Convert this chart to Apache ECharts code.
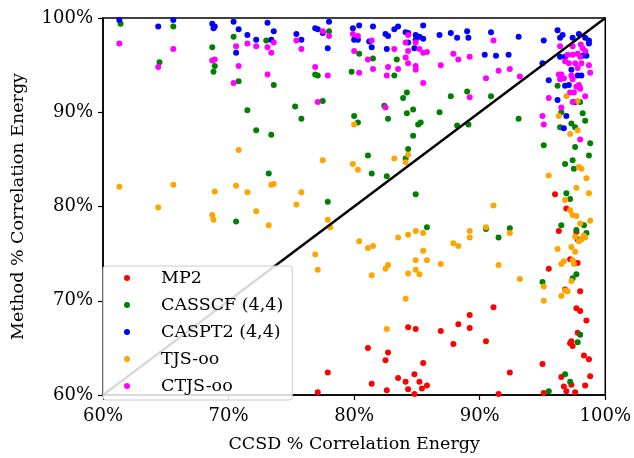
<!DOCTYPE html>
<html><head><meta charset="utf-8">
<script src="https://cdn.jsdelivr.net/npm/echarts@6/dist/echarts.min.js"></script>
<style>html,body{margin:0;padding:0;background:#fff}#c{width:634px;height:458px}</style>
</head><body><div id="c"></div>
<script>
const seriesNames = ["MP2", "CASSCF (4,4)", "CASPT2 (4,4)", "TJS-oo", "CTJS-oo"];
const xTicks = [60, 70, 80, 90, 100];
const yTicks = [60, 70, 80, 90, 100];

const mp2 = [[96.0,81.3],[96.9,79.8],[96.3,77.4],[97.7,77.3],[97.8,76.5],[97.2,74.4],[97.8,74.0],[95.5,73.4],[98.0,71.0],[96.8,71.2],[97.7,69.2],[98.0,68.9],[98.5,67.9],[97.8,66.6],[97.3,65.7],[97.4,65.2],[97.2,65.5],[98.3,64.2],[98.7,63.8],[95.0,63.3],[96.5,61.9],[98.8,62.0],[96.7,60.9],[97.3,61.1],[98.4,61.0],[96.9,60.4],[97.6,60.3],[95.1,60.2],[91.5,60.1],[92.4,62.4],[91.1,69.3],[90.5,65.7],[89.2,68.5],[89.2,67.1],[88.3,67.5],[87.9,65.4],[86.9,66.8],[84.9,67.0],[84.3,67.2],[85.5,63.4],[84.8,62.2],[85.2,61.4],[85.8,61.0],[85.4,60.7],[84.1,61.4],[84.3,60.6],[84.8,60.1],[83.5,61.8],[82.5,63.7],[82.7,64.5],[82.6,60.5],[81.1,65.0],[81.4,61.2],[77.9,62.4],[77.1,60.3]];

const casscf = [[61.4,99.4],[65.6,99.1],[70.4,98.0],[73.0,97.6],[64.5,95.3],[68.7,96.9],[68.9,94.9],[68.8,94.3],[70.8,93.3],[71.5,90.2],[72.2,88.1],[73.4,87.6],[73.2,83.5],[73.6,92.9],[70.6,78.4],[75.3,90.6],[75.8,89.3],[76.9,94.0],[77.1,93.9],[77.5,91.2],[78.0,98.6],[77.9,80.5],[79.8,94.3],[80.0,89.6],[80.3,88.9],[80.4,96.2],[81.5,95.7],[81.1,85.4],[81.4,83.5],[82.4,90.7],[82.7,89.3],[82.6,83.2],[83.4,95.6],[83.2,93.9],[84.2,92.1],[83.9,91.5],[84.2,89.9],[84.7,90.3],[84.7,87.5],[84.3,86.1],[84.1,85.1],[84.9,81.3],[85.1,88.7],[85.3,88.9],[85.8,77.8],[86.8,90.0],[87.7,91.7],[88.2,88.6],[89.0,92.2],[89.1,88.7],[90.9,91.7],[90.5,77.6],[91.5,76.7],[92.4,77.7],[93.1,89.3],[95.1,86.5],[95.0,72.0],[95.5,60.4],[96.2,92.8],[96.5,90.0],[96.4,88.4],[96.8,84.5],[96.9,81.4],[97.2,80.8],[97.4,84.9],[97.5,84.0],[96.5,78.0],[97.3,88.8],[97.6,88.4],[98.0,91.1],[98.2,89.9],[98.4,89.1],[98.8,86.7],[98.7,85.4],[97.6,86.3],[97.7,77.5],[98.3,78.0],[98.5,77.2],[98.0,76.5],[97.7,72.8],[97.4,72.4],[98.0,66.4],[97.8,65.6],[96.8,62.2],[97.2,61.4]];

const caspt2 = [[61.3,99.8],[64.4,99.1],[65.6,99.8],[68.7,99.4],[68.9,99.1],[68.8,98.9],[70.4,99.6],[70.8,98.8],[70.6,96.3],[71.5,98.2],[72.2,97.7],[73.1,99.5],[73.4,97.7],[73.6,98.6],[75.4,98.3],[75.8,97.7],[76.9,98.9],[77.1,98.8],[77.5,98.4],[78.0,99.6],[77.9,96.8],[79.9,98.9],[80.4,99.2],[80.0,97.7],[80.3,97.7],[81.5,99.1],[81.4,96.9],[81.2,97.5],[82.5,98.3],[82.7,98.1],[82.6,96.7],[83.2,98.8],[83.5,99.1],[84.1,98.5],[84.3,98.4],[84.3,97.4],[84.9,98.2],[84.9,97.7],[85.2,98.0],[85.5,97.8],[85.5,99.2],[84.8,96.8],[86.8,98.2],[87.7,98.4],[88.2,97.9],[89.0,98.6],[89.1,97.9],[90.9,98.5],[90.4,96.1],[91.3,96.0],[92.3,96.1],[93.1,98.0],[95.1,97.6],[95.0,95.2],[95.5,93.4],[96.2,98.7],[96.6,98.2],[96.4,97.9],[97.4,97.9],[97.9,98.3],[98.4,97.9],[98.7,97.6],[98.7,97.3],[96.4,95.9],[96.8,95.9],[98.5,96.0],[98.2,96.0],[97.3,94.5],[96.8,92.8],[97.1,92.9],[97.8,93.9],[98.1,93.9],[96.2,91.3],[97.6,91.1],[96.9,89.6],[96.7,88.3]];

const tjs = [[61.3,82.1],[64.4,79.9],[65.6,82.3],[68.7,79.1],[68.8,78.6],[68.9,81.6],[70.6,82.2],[70.8,86.0],[71.5,81.5],[72.2,79.5],[73.2,78.0],[73.4,82.3],[73.6,82.4],[75.4,80.2],[75.8,81.5],[76.9,74.9],[77.1,73.3],[77.5,84.9],[77.9,78.6],[78.1,77.8],[79.9,84.5],[80.0,88.7],[80.3,83.9],[80.4,76.3],[81.1,75.6],[81.5,75.8],[81.4,72.7],[82.5,73.4],[82.7,73.8],[82.6,67.0],[83.2,85.1],[83.5,76.7],[84.1,84.7],[84.3,85.5],[84.1,70.2],[84.3,77.0],[84.3,72.9],[84.9,77.4],[84.9,74.3],[84.9,73.3],[85.2,72.8],[85.5,75.3],[85.5,77.2],[85.8,74.3],[86.9,73.9],[87.9,76.1],[88.3,75.8],[89.2,77.4],[89.2,76.7],[90.5,77.8],[91.1,80.1],[91.5,73.8],[92.4,77.2],[93.2,72.3],[95.1,71.5],[95.1,70.0],[95.5,83.3],[96.3,89.6],[96.2,75.5],[96.5,73.9],[96.7,74.2],[96.5,70.5],[96.8,71.1],[97.0,71.0],[96.8,80.7],[97.2,87.7],[97.2,79.6],[97.4,79.1],[97.7,79.0],[97.3,75.7],[97.6,75.2],[97.4,74.3],[97.5,73.9],[97.3,72.1],[97.7,82.0],[98.0,78.2],[97.8,88.1],[97.9,84.2],[98.1,84.0],[97.6,76.8],[98.3,76.9],[97.9,76.3],[98.1,76.5],[98.4,76.7],[98.5,83.0],[98.7,81.4],[98.8,78.5],[96.9,91.7],[97.8,91.2],[98.0,92.7]];

const ctjs = [[61.3,97.3],[64.4,94.8],[65.6,96.7],[68.7,95.5],[68.9,95.6],[70.4,93.1],[70.6,97.0],[70.8,94.9],[71.5,97.3],[72.2,97.0],[73.1,96.9],[73.4,96.3],[73.1,94.0],[73.6,97.4],[75.4,97.6],[75.8,96.7],[76.9,94.8],[77.1,91.1],[77.5,98.6],[78.0,98.1],[77.9,93.9],[79.9,98.3],[80.3,98.1],[80.0,96.5],[80.4,94.2],[81.1,95.6],[81.4,97.6],[81.5,94.6],[82.5,90.5],[82.6,93.9],[82.7,94.8],[83.2,96.7],[83.5,94.6],[84.1,97.4],[84.1,95.8],[84.3,95.2],[84.3,96.5],[84.3,98.2],[84.9,97.4],[84.9,94.9],[84.9,94.5],[85.2,96.7],[85.5,93.1],[85.5,96.3],[85.8,96.4],[86.9,95.0],[87.9,96.2],[88.3,95.6],[89.2,95.9],[89.2,91.6],[90.5,93.6],[91.1,97.6],[91.5,94.4],[92.4,94.6],[93.2,93.8],[95.0,89.6],[95.1,88.7],[95.5,91.5],[96.5,90.5],[97.4,91.1],[98.0,87.1],[98.4,91.7],[98.7,95.0],[98.8,94.2],[96.4,97.0],[97.4,97.0],[98.05,97.2],[98.2,96.8],[98.4,96.5],[97.8,96.2],[98.0,95.9],[97.4,96.1],[97.0,96.1],[96.8,95.4],[97.1,95.2],[97.6,95.2],[98.1,95.2],[97.8,94.7],[96.3,94.0],[96.5,94.0],[96.7,93.6],[96.4,93.5],[97.3,93.9],[97.4,93.5],[97.9,92.9],[97.7,92.7],[98.0,92.5],[97.2,92.1],[97.5,92.1]];

const diagonal = [[60, 60], [100, 100]];
const colors = ["#ff0000", "#008000", "#0000ff", "#ffa500", "#ff00ff"];
const allData = [mp2, casscf, caspt2, tjs, ctjs];

const FONT = "DejaVu Serif";
const chart = echarts.init(document.getElementById('c'), null, {renderer: 'canvas'});
const scatterSeries = allData.map((d, i) => ({
  name: seriesNames[i], type: 'scatter', data: d, symbolSize: 6,
  itemStyle: {color: colors[i], opacity: 1}, clip: true, silent: true
}));
chart.setOption({
  animation: false,
  backgroundColor: '#fff',
  grid: {left: 103, right: 25, top: 18, bottom: 57, show: true, borderColor: '#000', borderWidth: 1.5, backgroundColor: 'transparent'},
  xAxis: {
    type: 'value', min: xTicks[0], max: xTicks[xTicks.length - 1], interval: 10,
    name: 'CCSD % Correlation Energy', nameLocation: 'middle', nameGap: 40,
    nameTextStyle: {fontFamily: FONT, fontSize: 17.5, color: '#000'},
    axisLine: {show: true, lineStyle: {color: '#000', width: 1.5}},
    axisTick: {show: true, length: 5, lineStyle: {color: '#000', width: 1.2}},
    axisLabel: {formatter: '{value}%', fontFamily: FONT, fontSize: 18, color: '#000', margin: 12},
    splitLine: {show: false}
  },
  yAxis: {
    type: 'value', min: yTicks[0], max: yTicks[yTicks.length - 1], interval: 10,
    name: 'Method % Correlation Energy', nameLocation: 'middle', nameGap: 76,
    nameTextStyle: {fontFamily: FONT, fontSize: 17.5, color: '#000'},
    axisLine: {show: true, lineStyle: {color: '#000', width: 1.5}},
    axisTick: {show: true, length: 5, lineStyle: {color: '#000', width: 1.2}},
    axisLabel: {formatter: '{value}%', fontFamily: FONT, fontSize: 18, color: '#000', margin: 10},
    splitLine: {show: false}
  },
  legend: {
    data: seriesNames, orient: 'vertical', left: 103, bottom: 58,
    icon: 'circle', itemWidth: 40, itemHeight: 6, itemGap: 9,
    padding: [3, 9, 5, 21],
    backgroundColor: 'rgba(255,255,255,0.85)', borderColor: '#cccccc', borderWidth: 1, borderRadius: 3,
    textStyle: {fontFamily: FONT, fontSize: 17.5, color: '#000', lineHeight: 18, padding: [0, 0, 0, 9]}
  },
  series: scatterSeries.concat([{
    type: 'line', data: diagonal, symbol: 'none', silent: true,
    lineStyle: {color: '#000', width: 2.5}, clip: true, z: 3
  }])
});
</script></body></html>
